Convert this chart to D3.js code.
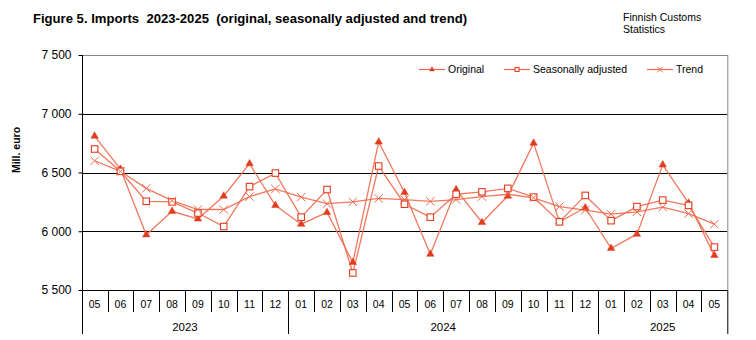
<!DOCTYPE html>
<html>
<head>
<meta charset="utf-8">
<script src="https://cdn.jsdelivr.net/npm/d3@7"></script>
<style>
  body { margin: 0; background: #fff; }
  svg { display: block; font-family: "Liberation Sans", Arial, sans-serif; }
  text { white-space: pre; }
</style>
</head>
<body>
<svg id="chart" width="756" height="340"></svg>
<script>
// ---- data ----
const months = ["05","06","07","08","09","10","11","12",
                "01","02","03","04","05","06","07","08","09","10","11","12",
                "01","02","03","04","05"];
const yearLabels = ["2023", "2024", "2025"];
const yearCounts = [8, 12, 5];
const original = [6810, 6530, 5970, 6170, 6105, 6300, 6575, 6220,
                  6060, 6160, 5735, 6760, 6330, 5805, 6355, 6075, 6300, 6750, 6080, 6200,
                  5855, 5975, 6565, 6240, 5795];
const seasonal = [6700, 6510, 6255, 6250, 6155, 6040, 6380, 6495,
                  6120, 6355, 5645, 6555, 6230, 6120, 6315, 6335, 6365, 6290, 6080, 6305,
                  6090, 6210, 6265, 6220, 5865];
const trend    = [6600, 6510, 6365, 6260, 6185, 6185, 6295, 6360,
                  6290, 6235, 6250, 6280, 6270, 6255, 6270, 6295, 6315, 6285, 6210, 6180,
                  6145, 6165, 6205, 6150, 6060];
const yTicks = [5500, 6000, 6500, 7000, 7500];
const seriesNames = ["Original", "Seasonally adjusted", "Trend"];

// ---- layout ----
const svg = d3.select("#chart");
const L = 81.7, R = 727.3, T = 55, B = 290;
const idx = months.map((m, i) => i);
const x = d3.scaleBand().domain(idx).range([L, R]).padding(0);
const y = d3.scaleLinear().domain([5500, 7500]).range([B, T]);
const cx = i => x(i) + x.bandwidth() / 2;

const lineCol = "#ee6a4e";
const markCol = "#e23c1e";

// title
svg.append("text").attr("x", 33).attr("y", 23)
  .attr("font-size", 12.5).attr("font-weight", "bold").attr("fill", "#000")
  .attr("textLength", 434).attr("lengthAdjust", "spacingAndGlyphs")
  .text("Figure 5. Imports  2023-2025  (original, seasonally adjusted and trend)");
svg.append("text").attr("x", 623).attr("y", 21).attr("font-size", 10.5).attr("fill", "#000")
  .text("Finnish Customs");
svg.append("text").attr("x", 623).attr("y", 33).attr("font-size", 10.5).attr("fill", "#000")
  .text("Statistics");

// y axis label
svg.append("text")
  .attr("transform", `translate(20,150) rotate(-90)`)
  .attr("text-anchor", "middle").attr("font-size", 10.5).attr("font-weight", "bold")
  .text("Mill. euro");

// gridlines
svg.append("g").selectAll("line").data(yTicks.filter(v => v > 5500 && v < 7500)).join("line")
  .attr("x1", L).attr("x2", R).attr("y1", d => Math.round(y(d)) + 0.5).attr("y2", d => Math.round(y(d)) + 0.5)
  .attr("stroke", "#000").attr("stroke-width", 1);
// top & right border (gray)
svg.append("line").attr("x1", L).attr("x2", R + 0.5).attr("y1", T + 0.5).attr("y2", T + 0.5)
  .attr("stroke", "#888");
svg.append("line").attr("x1", R + 0.5).attr("x2", R + 0.5).attr("y1", T).attr("y2", B)
  .attr("stroke", "#888");

// y axis
const yAxis = d3.axisLeft(y).tickValues(yTicks).tickSize(4).tickPadding(7)
  .tickFormat(d => d3.format(",")(d).replace(",", " "));
const gy = svg.append("g").attr("transform", `translate(${Math.round(L) + 0.5},0)`).call(yAxis);
gy.select(".domain").remove();
gy.selectAll(".tick line").attr("stroke", "#000");
gy.selectAll(".tick text").attr("font-size", 12).attr("font-family", "Liberation Sans, Arial, sans-serif").attr("fill", "#000");
gy.append("line").attr("x1", 0).attr("x2", 0).attr("y1", T).attr("y2", 334).attr("stroke", "#000");

// x axis baseline
svg.append("line").attr("x1", L).attr("x2", R + 0.5).attr("y1", B + 0.5).attr("y2", B + 0.5).attr("stroke", "#000");
// month separators
svg.append("g").selectAll("line").data(idx.slice(1)).join("line")
  .attr("x1", d => Math.round(x(d)) + 0.5).attr("x2", d => Math.round(x(d)) + 0.5)
  .attr("y1", B).attr("y2", 312).attr("stroke", "#000");
// right edge below axis
svg.append("line").attr("x1", R + 0.5).attr("x2", R + 0.5).attr("y1", B).attr("y2", 334).attr("stroke", "#000");
// month labels
svg.append("g").selectAll("text").data(months).join("text")
  .attr("x", (d, i) => cx(i)).attr("y", 308).attr("text-anchor", "middle")
  .attr("font-size", 10.5).attr("fill", "#000").text(d => d);
// year groups
let start = 0;
yearLabels.forEach((lab, k) => {
  const n = yearCounts[k];
  const x0 = x(start), x1 = start + n < months.length ? x(start + n) : R;
  if (start > 0) {
    svg.append("line").attr("x1", Math.round(x0) + 0.5).attr("x2", Math.round(x0) + 0.5)
      .attr("y1", B).attr("y2", 334).attr("stroke", "#000");
  }
  svg.append("text").attr("x", (x0 + x1) / 2).attr("y", 331).attr("text-anchor", "middle")
    .attr("font-size", 11.5).attr("fill", "#000").text(lab);
  start += n;
});

// lines
const line = d3.line().x((d, i) => cx(i)).y(d => y(d));
[original, seasonal, trend].forEach(s => {
  svg.append("path").datum(s).attr("d", line).attr("fill", "none")
    .attr("stroke", lineCol).attr("stroke-width", 1.3).attr("stroke-opacity", 0.9);
});

// markers
function drawTri(g, px, py, size) {
  g.append("path").attr("d", d3.symbol().type(d3.symbolTriangle).size(size)())
    .attr("transform", `translate(${px},${py})`)
    .attr("fill", markCol).attr("stroke", markCol).attr("stroke-width", 0.5);
}
function drawSq(g, px, py, s) {
  g.append("rect").attr("x", px - s / 2).attr("y", py - s / 2).attr("width", s).attr("height", s)
    .attr("fill", "#fff").attr("stroke", markCol).attr("stroke-width", 1.1);
}
function drawX(g, px, py, s) {
  g.append("path").attr("d", `M${px - s},${py - s}L${px + s},${py + s}M${px - s},${py + s}L${px + s},${py - s}`)
    .attr("stroke", lineCol).attr("stroke-width", 1).attr("fill", "none");
}
const gm = svg.append("g");
original.forEach((v, i) => drawTri(gm, cx(i), y(v), 24));
seasonal.forEach((v, i) => drawSq(gm, cx(i), y(v), 6.5));
trend.forEach((v, i) => drawX(gm, cx(i), y(v), 4.2));

// legend
const lg = svg.append("g");
const ly = 69.5;
const legItems = [
  {x0: 419, x1: 445, tx: 448, draw: (px) => drawTri(lg, px, ly, 10)},
  {x0: 504, x1: 530, tx: 533, draw: (px) => drawSq(lg, px, ly, 4)},
  {x0: 647, x1: 673, tx: 676, draw: (px) => drawX(lg, px, ly, 2.8)}
];
legItems.forEach((it, k) => {
  lg.append("line").attr("x1", it.x0).attr("x2", it.x1).attr("y1", ly).attr("y2", ly)
    .attr("stroke", lineCol).attr("stroke-width", 1.2);
  it.draw((it.x0 + it.x1) / 2);
  lg.append("text").attr("x", it.tx).attr("y", ly + 3.8).attr("font-size", 10.5).attr("fill", "#000")
    .text(seriesNames[k]);
});
</script>
</body>
</html>
